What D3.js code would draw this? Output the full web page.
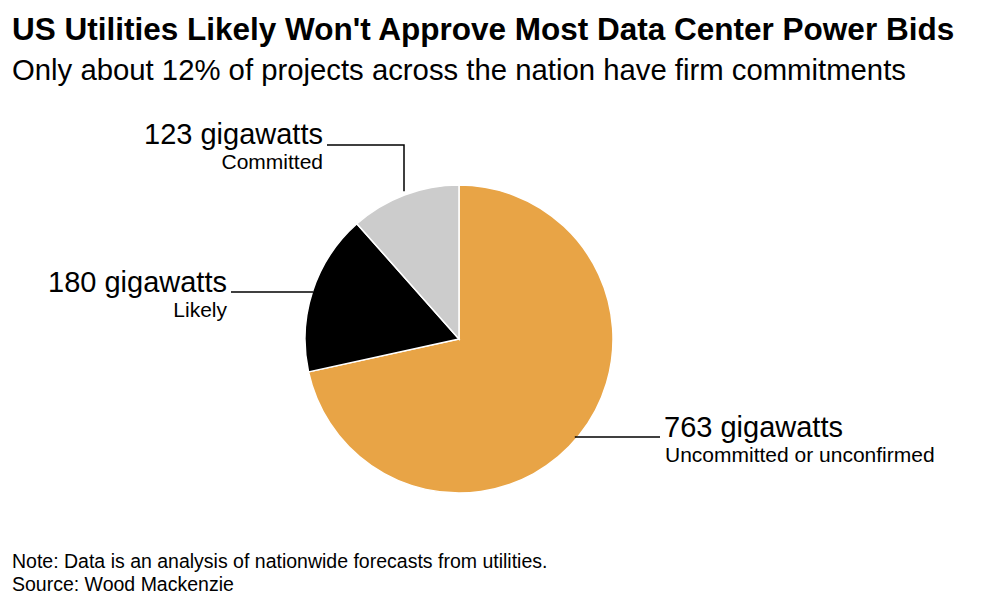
<!DOCTYPE html>
<html lang="en">
<head>
<meta charset="UTF-8">
<title>US Utilities Likely Won't Approve Most Data Center Power Bids</title>
<script src="https://d3js.org/d3.v7.min.js"></script>
<style>
  body { margin: 0; background: #fff; }
  svg text { font-family: "Liberation Sans", Arial, sans-serif; fill: #000; }
  .title { font-weight: bold; font-size: 31.5px; }
  .subtitle { font-size: 29.3px; }
  .big { font-size: 29px; }
  .small { font-size: 21px; }
  .foot { font-size: 19.5px; }
</style>
</head>
<body>
<svg id="chart" width="1000" height="607"></svg>
<script>
// data (gigawatts)
var categories = ["Uncommitted or unconfirmed", "Likely", "Committed"];
var values = [763, 180, 123];
var valueLabels = ["763 gigawatts", "180 gigawatts", "123 gigawatts"];
var colors = ["#e8a446", "#000000", "#cccccc"];

var svg = d3.select("#chart");

svg.append("text").attr("class", "title").attr("x", 12).attr("y", 40)
   .text("US Utilities Likely Won't Approve Most Data Center Power Bids");
svg.append("text").attr("class", "subtitle").attr("x", 12).attr("y", 80)
   .text("Only about 12% of projects across the nation have firm commitments");

var cx = 459, cy = 339, r = 154;

var pie = d3.pie().sort(null).value(function(d) { return d; });
var arcs = pie(values);
var arc = d3.arc().innerRadius(0).outerRadius(r);

var g = svg.append("g").attr("transform", "translate(" + cx + "," + cy + ")");

g.selectAll("path")
  .data(arcs)
  .join("path")
  .attr("d", arc)
  .attr("fill", function(d, i) { return colors[i]; })
  .attr("stroke", "#fff")
  .attr("stroke-width", 1.5);

// uncommitted: horizontal line to the right
var e0y = 437 - cy;
var e0x = Math.sqrt(r * r - e0y * e0y);
g.append("path").attr("d", "M" + (e0x - 3) + "," + e0y + "H" + (660 - cx))
  .attr("stroke", "#000").attr("stroke-width", 1.5).attr("fill", "none");
g.append("text").attr("class", "big").attr("x", 664 - cx).attr("y", 437 - cy).text(valueLabels[0]);
g.append("text").attr("class", "small").attr("x", 665 - cx).attr("y", 462 - cy).text(categories[0]);

// likely: horizontal line to the left
var e1y = 292 - cy;
var e1x = -Math.sqrt(r * r - e1y * e1y);
g.append("path").attr("d", "M" + (e1x + 1) + "," + e1y + "H" + (231 - cx))
  .attr("stroke", "#000").attr("stroke-width", 1.5).attr("fill", "none");
g.append("text").attr("class", "big").attr("x", 227 - cx).attr("y", 292 - cy)
  .attr("text-anchor", "end").text(valueLabels[1]);
g.append("text").attr("class", "small").attr("x", 227 - cx).attr("y", 317 - cy)
  .attr("text-anchor", "end").text(categories[1]);

// committed: elbow line up and to the left
var e2x = 404 - cx;
var e2y = -Math.sqrt(r * r - e2x * e2x);
g.append("path").attr("d", "M" + e2x + "," + (e2y - 4) + "V" + (145 - cy) + "H" + (327 - cx))
  .attr("stroke", "#000").attr("stroke-width", 1.5).attr("fill", "none");
g.append("text").attr("class", "big").attr("x", 323 - cx).attr("y", 144 - cy)
  .attr("text-anchor", "end").text(valueLabels[2]);
g.append("text").attr("class", "small").attr("x", 323 - cx).attr("y", 169 - cy)
  .attr("text-anchor", "end").text(categories[2]);

svg.append("text").attr("class", "foot").attr("x", 12).attr("y", 568)
   .text("Note: Data is an analysis of nationwide forecasts from utilities.");
svg.append("text").attr("class", "foot").attr("x", 12).attr("y", 591)
   .text("Source: Wood Mackenzie");
</script>
</body>
</html>
